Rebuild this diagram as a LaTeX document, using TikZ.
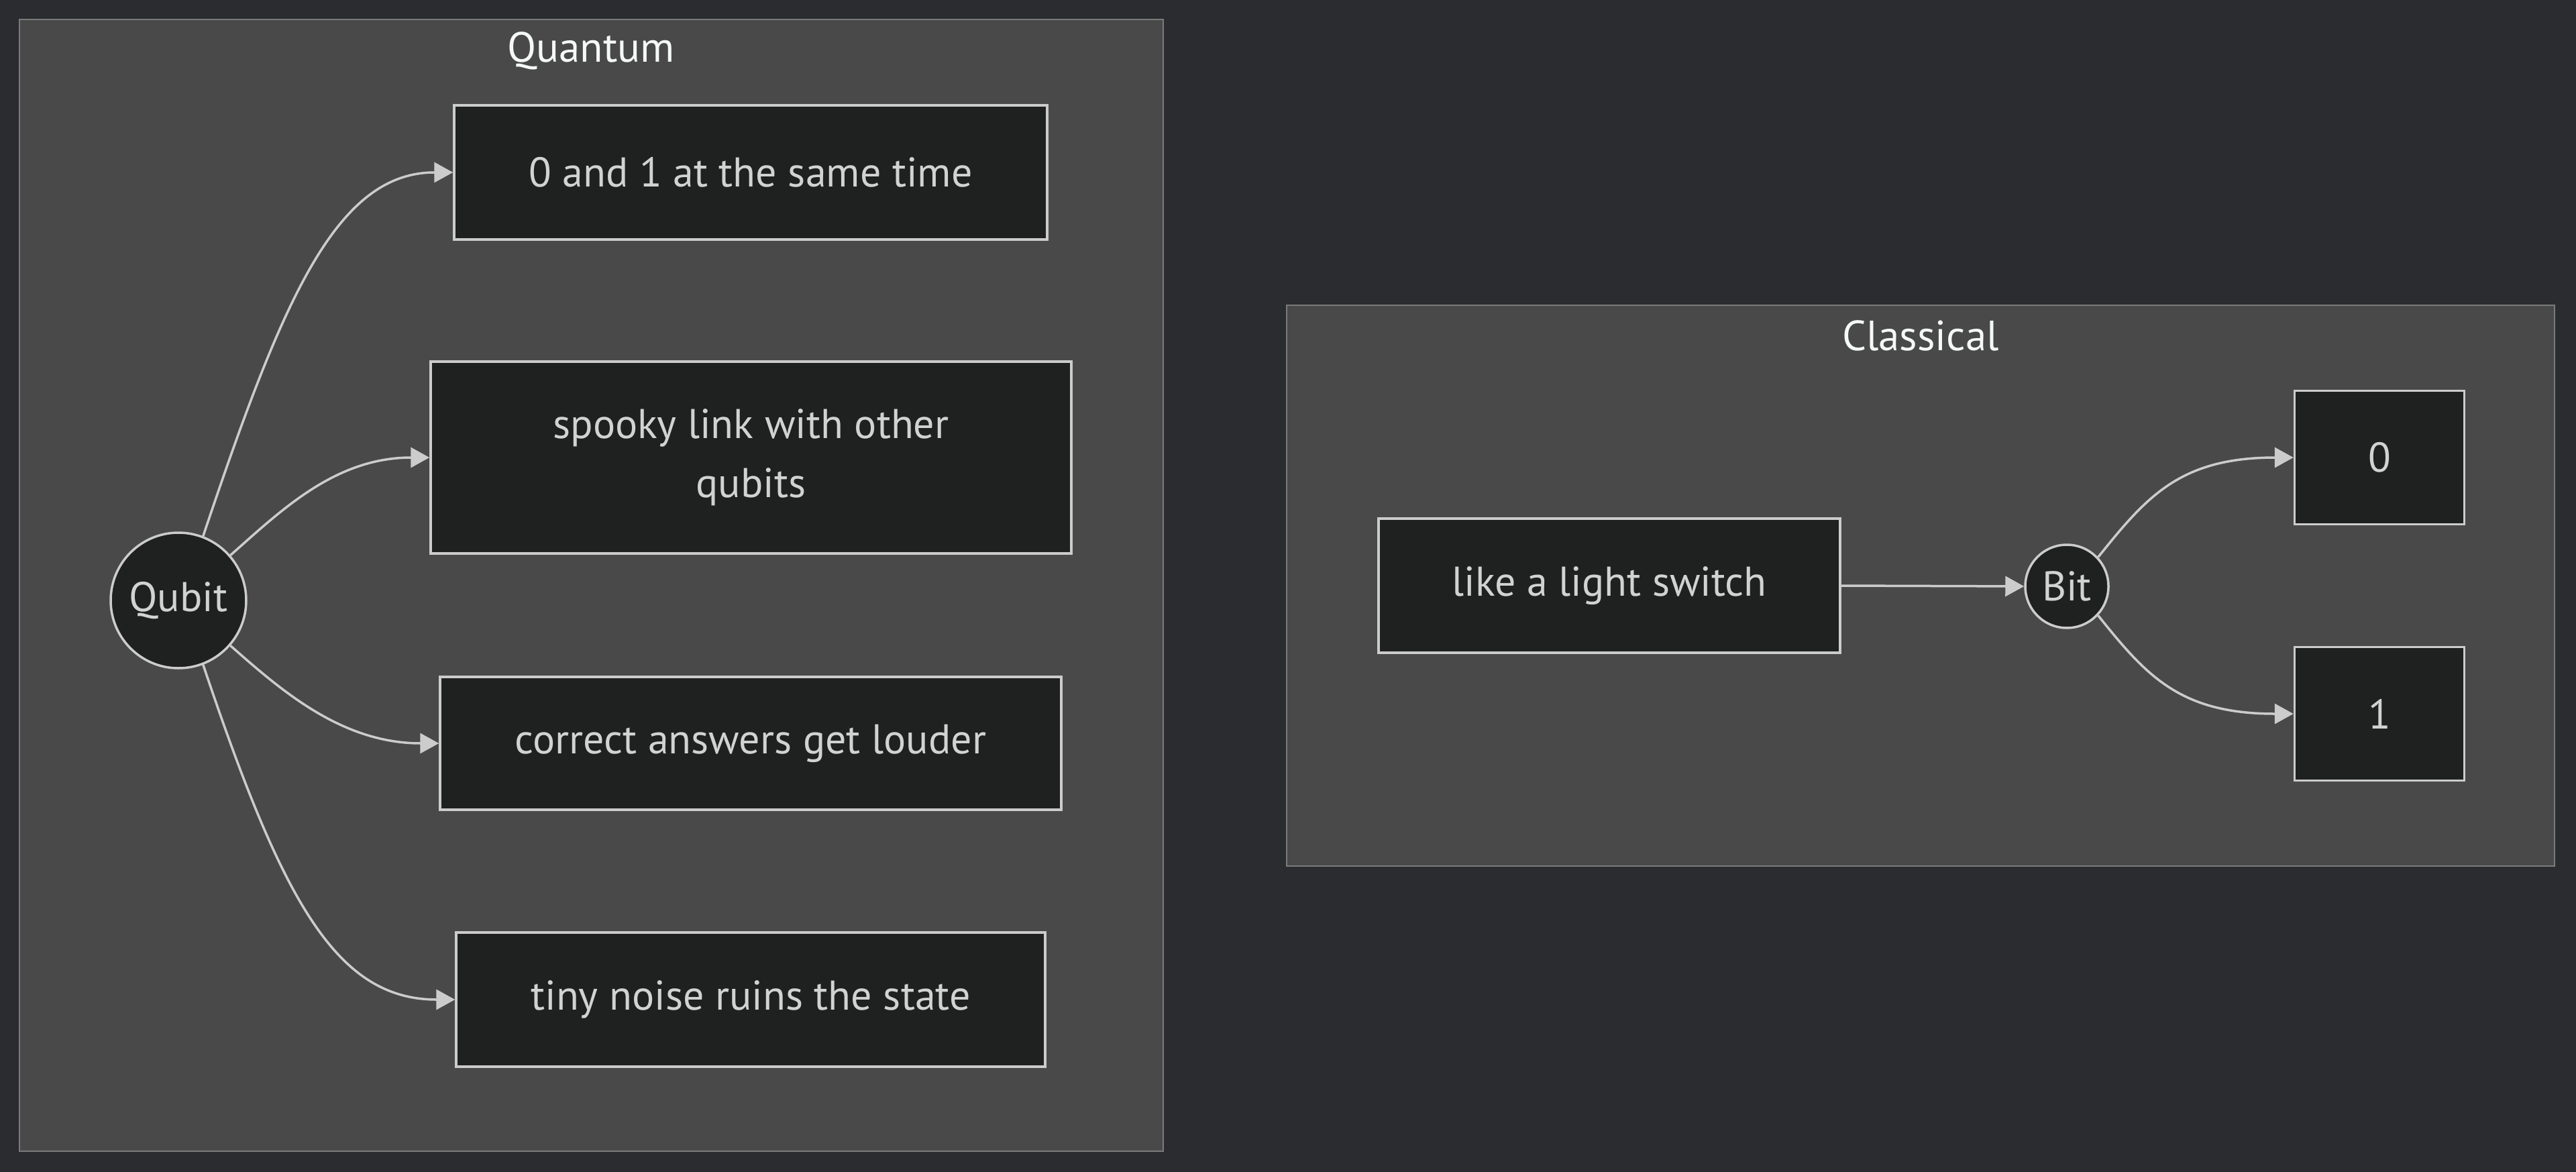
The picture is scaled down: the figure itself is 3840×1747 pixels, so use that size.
\documentclass[tikz,border=0pt]{standalone}
\usepackage{fontspec}
\setmainfont{PT Sans}
\usetikzlibrary{arrows.meta,shapes.geometric}
\definecolor{pagebg}{HTML}{2B2C30}
\definecolor{clusterbg}{HTML}{484948}
\definecolor{clusterline}{HTML}{7A7B7B}
\definecolor{nodebg}{HTML}{1F2020}
\definecolor{nodeline}{HTML}{CCCCCC}
\definecolor{nodetext}{HTML}{D2D2D2}
\definecolor{titletext}{HTML}{F4F8F6}
\tikzset{
  cluster/.style={draw=clusterline, fill=clusterbg, line width=2pt},
  boxnode/.style={draw=nodeline, fill=nodebg, line width=3.5pt, text=nodetext, inner sep=0pt,
    font=\fontsize{62}{88}\selectfont, align=center},
  roundnode/.style={boxnode, circle},
  ctitle/.style={text=titletext, font=\fontsize{63}{72}\selectfont, inner sep=0pt},
  edge/.style={draw=nodeline, line width=3.5pt, -{Triangle[length=28pt,width=30pt]}}
}
\begin{document}
\begin{tikzpicture}[x=1pt,y=-1pt]
\useasboundingbox[fill=pagebg] (0,0) rectangle (3840,1747);
% clusters
\draw[cluster] (29,29) rectangle (1734,1716);
\node[ctitle] (tq) at (881,76) {Quantum};
\draw[cluster] (1918,455) rectangle (3808,1291);
\node[ctitle] (tc) at (2863,500) {Classical};
% quantum nodes
\node[roundnode, minimum size=202pt] (qubit) at (266,895) {Qubit};
\node[boxnode, minimum width=884pt, minimum height=200pt] (q1) at (1119,257) {0 and 1 at the same time};
\node[boxnode, minimum width=955pt, minimum height=286pt] (q2) at (1119.5,682) {spooky link with other\\qubits};
\node[boxnode, minimum width=926pt, minimum height=198pt] (q3) at (1119,1108) {correct answers get louder};
\node[boxnode, minimum width=878pt, minimum height=200pt] (q4) at (1119,1490) {tiny noise ruins the state};
% classical nodes
\node[boxnode, minimum width=688pt, minimum height=200pt] (light) at (2399,873) {like a light switch};
\node[roundnode, minimum size=124pt] (bit) at (3081,874) {Bit};
\node[boxnode, minimum width=253pt, minimum height=199pt] (zero) at (3547,682) {0};
\node[boxnode, minimum width=253pt, minimum height=199pt] (one) at (3547,1064) {1};
% edges
\draw[edge] (qubit.69) .. controls (420,450) and (500,257) .. (q1.west);
\draw[edge] (qubit.41) .. controls (420,760) and (500,682) .. (q2.west);
\draw[edge] (qubit.-41) .. controls (420,1030) and (510,1108) .. (q3.west);
\draw[edge] (qubit.-69) .. controls (420,1340) and (500,1490) .. (q4.west);
\draw[edge] (light.east) -- (bit.west);
\draw[edge] (bit.43) .. controls (3200,740) and (3250,682) .. (zero.west);
\draw[edge] (bit.-43) .. controls (3200,1008) and (3250,1064) .. (one.west);
\end{tikzpicture}
\end{document}
